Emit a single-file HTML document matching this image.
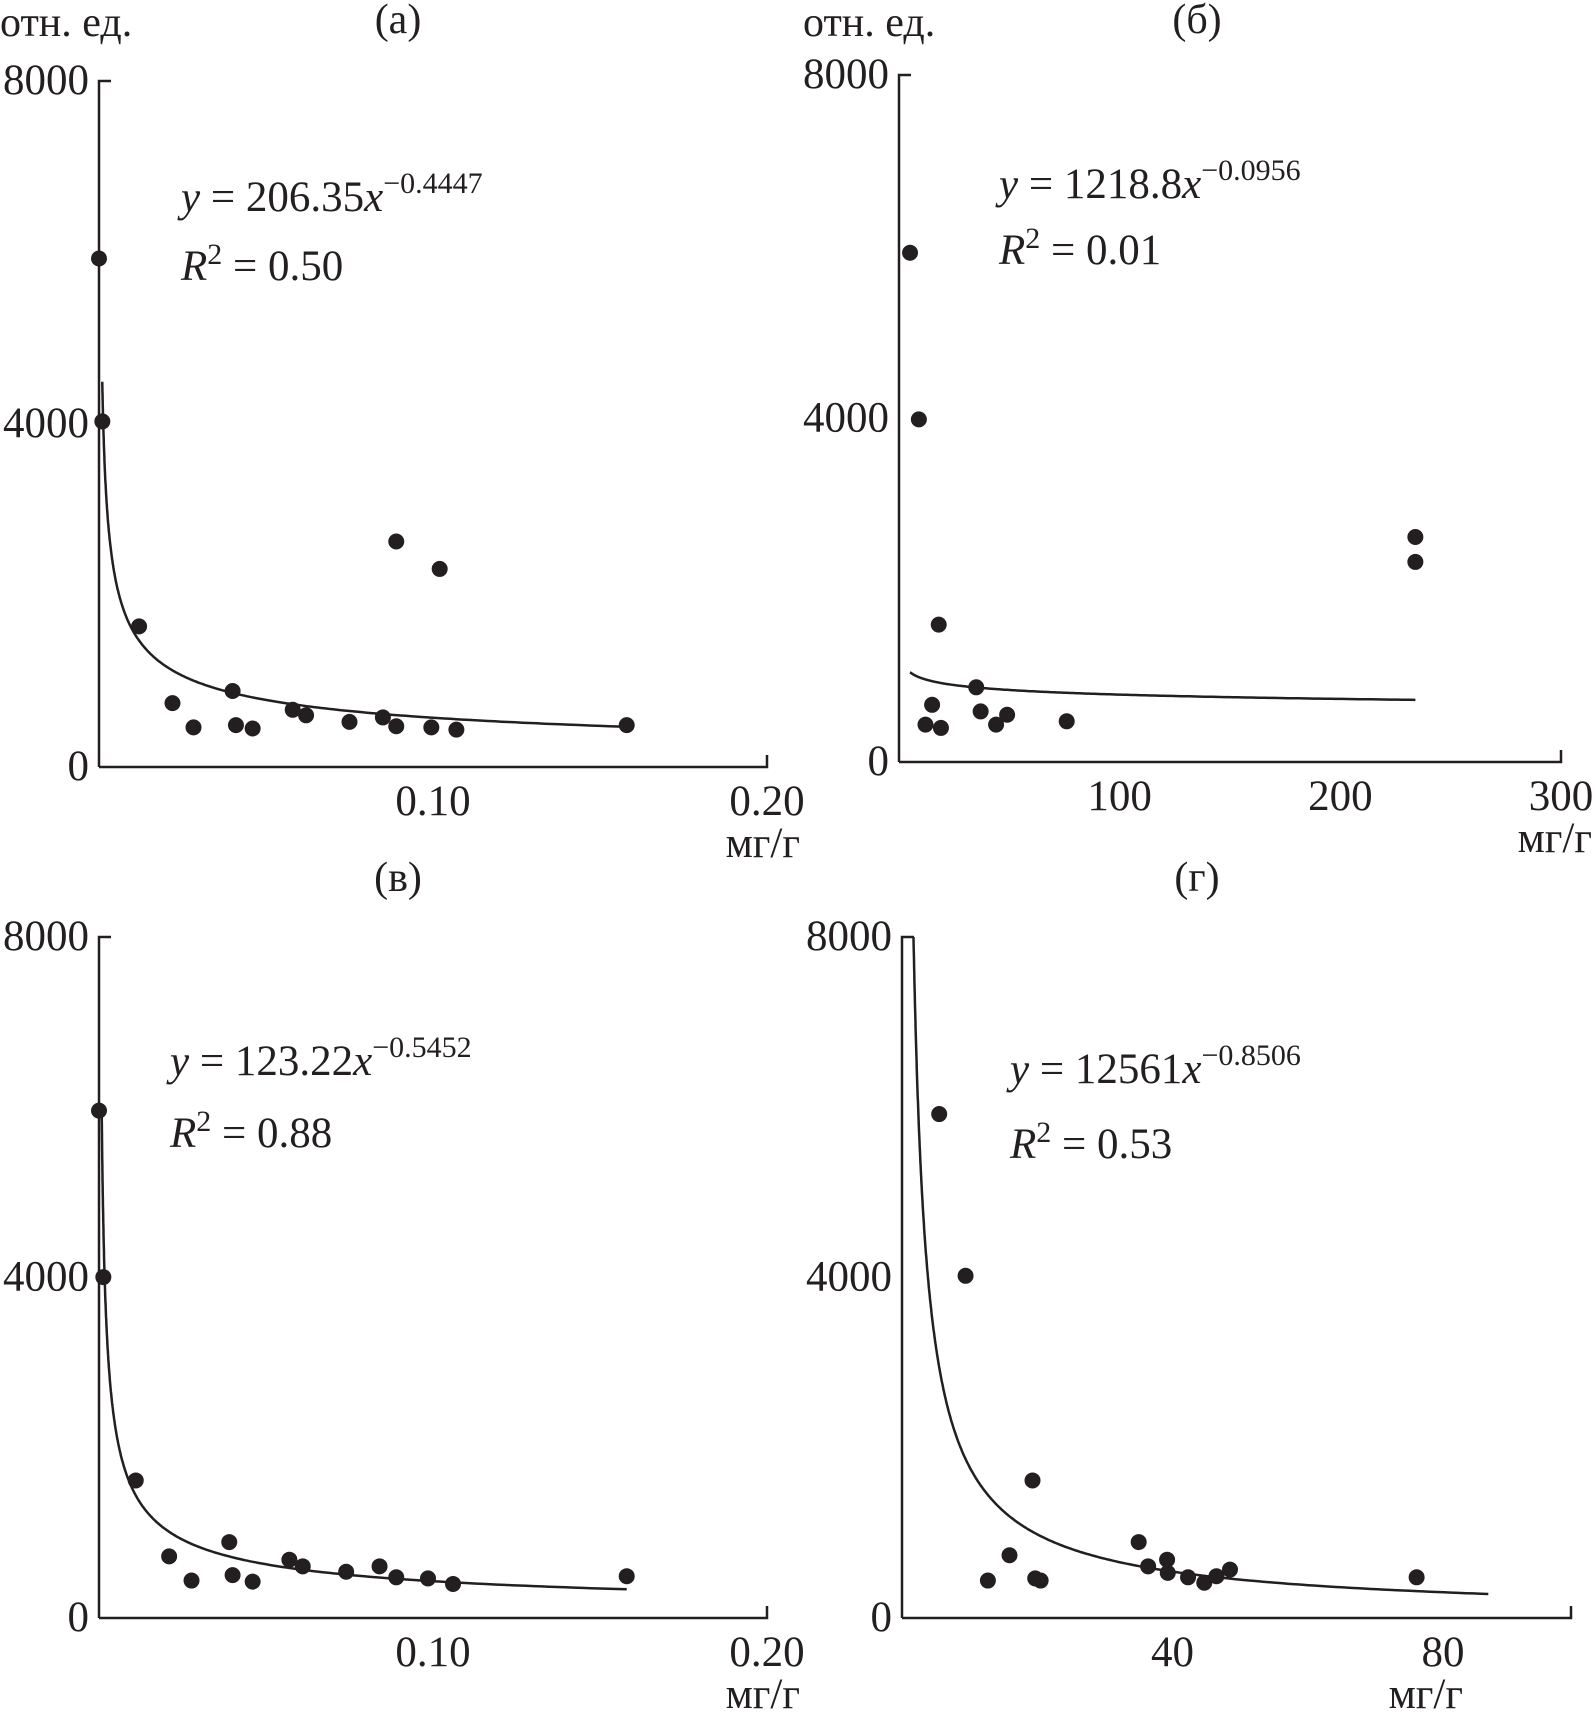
<!DOCTYPE html>
<html><head><meta charset="utf-8"><style>
html,body{margin:0;padding:0;background:#fff}
svg{display:block}
text{font-family:"Liberation Serif",serif;fill:#231f20}
</style></head><body>
<svg id="chart" width="1595" height="1729" viewBox="0 0 1595 1729" xmlns="http://www.w3.org/2000/svg"></svg>
<script>
// Panel (а)
const aX = [0.0,0.001,0.012,0.022,0.0283,0.040,0.041,0.046,0.058,0.062,0.075,0.085,0.089,0.089,0.0995,0.102,0.107,0.158];
const aY = [5930,4030,1640,745,462,886,488,449,667,603,526,578,475,2630,462,2310,436,488];
// Panel (б)
const bX = [5,9,18,15,12,19,35,37,44,49,76,234,234];
const bY = [5930,3990,1600,666,435,397,870,589,435,550,474,2620,2330];
// Panel (в)
const vX = [0.0,0.0013,0.011,0.021,0.0277,0.039,0.040,0.046,0.057,0.061,0.074,0.084,0.089,0.0985,0.106,0.158];
const vY = [5960,4005,1616,724,440,892,504,427,685,607,543,607,478,465,400,491];
// Panel (г)
const gX = [5.5,9.4,12.7,15.9,19.3,19.7,20.5,35,36.4,39.2,39.3,42.3,44.7,46.5,48.5,76.1];
const gY = [5920,4020,440,737,1616,465,440,892,607,685,530,478,414,491,569,478];
// fit coefficients [a, b] for y = a*x^b and x range
const aFit = [206.35,-0.4447,0.00098,0.158];
const bFit = [1218.8,-0.0956,5,234];
const vFit = [123.22,-0.5452,0.0008,0.158];
const gFit = [12561,-0.8506,1.70,86.7];
// tick labels
const aXTicks = [0.10,0.20], aXLabels = ["0.10","0.20"];
const bXTicks = [100,200,300], bXLabels = ["100","200","300"];
const gXTicks = [40,80], gXLabels = ["40","80"];
const yTicks = [0,4000,8000], yLabels = ["0","4000","8000"];

const NS="http://www.w3.org/2000/svg";
const svg=document.getElementById('chart');
function mk(tag,attrs,parent){const e=document.createElementNS(NS,tag);for(const k in attrs)e.setAttribute(k,attrs[k]);(parent||svg).appendChild(e);return e;}

function panel(p){
  const g=mk('g',{});
  
  
  const sx=v=>p.px0+(v-p.xmin)*(p.px1-p.px0)/(p.xmax-p.xmin);
  const sy=v=>p.py0+v*(p.py8-p.py0)/8000;
  const ya=mk('path',{d:`M${p.px0+12},${sy(8000)} L${p.px0},${sy(8000)} L${p.px0},${sy(0)}`,fill:'none',stroke:'#231f20','stroke-width':2.5},g);
  
  
  const xa=mk('path',{d:`M${p.px0},${sy(0)} L${p.axEnd},${sy(0)} L${p.axEnd},${sy(0)-12}`,fill:'none',stroke:'#231f20','stroke-width':2.5},g);
  
  
  yTicks.forEach((v,i)=>{
    const t=mk('text',{x:p.px0-10,y:sy(v)+13,'text-anchor':'end','font-size':43},g);
    t.textContent=yLabels[i];
    
    
  });
  p.xt.forEach((v,i)=>{
    const t=mk('text',{x:sx(v),y:sy(0)+48,'text-anchor':'middle','font-size':43},g);
    t.textContent=p.xl[i];
    
    
  });
  const u=mk('text',{x:p.unitX,y:sy(0)+90,'text-anchor':'end','font-size':43},g);
  u.textContent='мг/г';
  
  
  const tt=mk('text',{x:p.titleX,y:p.titleY,'text-anchor':'middle','font-size':42},g);
  tt.textContent=p.title;
  
  
  if(p.ylab){const yl=mk('text',{x:p.ylabX,y:36,'font-size':42},g);yl.textContent='отн. ед.';
    
    }
  const f=p.fit;let d='';const N=300;
  for(let i=0;i<=N;i++){const x=f[2]*Math.pow(f[3]/f[2],i/N);let y=f[0]*Math.pow(x,f[1]);d+=(i?'L':'M')+sx(x).toFixed(1)+','+sy(y).toFixed(1);}
  if(p.vert) d='M'+sx(f[2]).toFixed(1)+','+sy(8000).toFixed(1)+d.replace(/^M/,'L');
  const c=mk('path',{d:d,fill:'none',stroke:'#231f20','stroke-width':2.5},g);
  
  
  p.X.forEach((x,i)=>{
    const pt=mk('circle',{cx:sx(x),cy:sy(p.Y[i]),r:8,fill:'#231f20'},g);
    
    
  });
  const eq=mk('text',{x:p.eqX,y:p.eqY,'font-size':43},g);
  eq.innerHTML=`<tspan font-style="italic">y</tspan> = ${p.eqA}<tspan font-style="italic">x</tspan><tspan font-size="30" dy="-18">−${p.eqB}</tspan>`;
  
  
  const r2=mk('text',{x:p.eqX,y:p.r2Y,'font-size':43},g);
  r2.innerHTML=`<tspan font-style="italic">R</tspan><tspan font-size="30" dy="-16">2</tspan><tspan dy="16"> = ${p.r2}</tspan>`;
  
  
}
panel({id:'a',title:'(а)',titleX:398,titleY:33,ylab:true,ylabX:0,px0:99,px1:767,xmin:0,xmax:0.2,axEnd:767,py0:767,py8:81,
  xt:aXTicks,xl:aXLabels,unitX:800,X:aX,Y:aY,fit:aFit,eqX:181,eqY:211,r2Y:280,eqA:'206.35',eqB:'0.4447',r2:'0.50'});
panel({id:'b',title:'(б)',titleX:1197,titleY:33,ylab:true,ylabX:803,px0:899,px1:1561,xmin:0,xmax:300,axEnd:1561,py0:762,py8:75,
  xt:bXTicks,xl:bXLabels,unitX:1592,X:bX,Y:bY,fit:bFit,eqX:999,eqY:198,r2Y:264,eqA:'1218.8',eqB:'0.0956',r2:'0.01'});
panel({id:'v',title:'(в)',titleX:398,titleY:891,ylab:false,px0:99,px1:767,xmin:0,xmax:0.2,axEnd:767,py0:1618,py8:937,
  xt:aXTicks,xl:aXLabels,unitX:800,X:vX,Y:vY,fit:vFit,eqX:170,eqY:1075,r2Y:1147,eqA:'123.22',eqB:'0.5452',r2:'0.88'});
panel({id:'g',title:'(г)',titleX:1197,titleY:891,ylab:false,px0:902,px1:1443,xmin:0,xmax:80,axEnd:1571,py0:1618,py8:937,
  xt:gXTicks,xl:gXLabels,unitX:1463,X:gX,Y:gY,fit:gFit,vert:true,eqX:1010,eqY:1083,r2Y:1158,eqA:'12561',eqB:'0.8506',r2:'0.53'});
</script>
</body></html>
